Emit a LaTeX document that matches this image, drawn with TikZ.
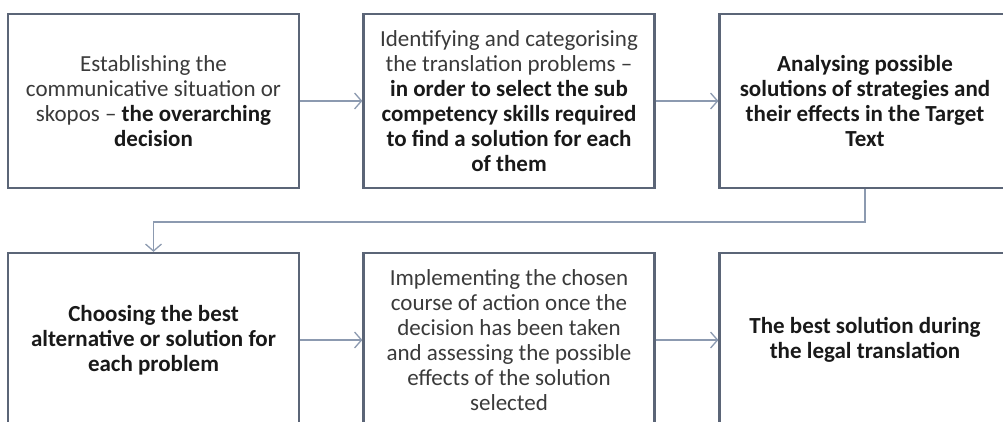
\documentclass[tikz,border=0pt]{standalone}
\usepackage{fontspec}
\setmainfont{Carlito}
\usepackage{tikz}
\usetikzlibrary{arrows.meta}

\definecolor{boxline}{HTML}{5B6577}
\definecolor{linkline}{HTML}{8C9AB0}
\definecolor{plaintext}{HTML}{3A3A3A}
\newcommand{\keypart}[1]{{\bfseries\color{black!90}#1}}

\begin{document}
\begin{tikzpicture}[x=1pt, y=1pt,
    stage/.style={draw=boxline, line width=2.2pt, minimum width=291pt,
      minimum height=174pt, inner sep=0pt, align=center,
      font=\fontsize{23}{25}\selectfont, text=plaintext},
    link/.style={draw=linkline, line width=1.3pt,
      -{Straight Barb[length=7pt, width=16pt, line width=1.3pt]}}]
    \useasboundingbox (0,0) rectangle (1003,421);

    % top row
    \node[stage] (situation) at (153.5,320)
      {Establishing the\\ communicative situation or\\
       skopos -- \keypart{the overarching}\\ \keypart{decision}};
    \node[stage] (problems) at (509,320)
      {Identifying and categorising\\ the translation problems --\\
       \keypart{in order to select the sub}\\ \keypart{competency skills required}\\
       \keypart{to find a solution for each}\\ \keypart{of them}};
    \node[stage] (analysing) at (865,320)
      {\keypart{Analysing possible}\\ \keypart{solutions of strategies and}\\
       \keypart{their effects in the Target}\\ \keypart{Text}};

    % bottom row
    \node[stage] (choosing) at (153.5,81)
      {\keypart{Choosing the best}\\ \keypart{alternative or solution for}\\
       \keypart{each problem}};
    \node[stage] (implementing) at (509,81)
      {Implementing the chosen\\ course of action once the\\
       decision has been taken\\ and assessing the possible\\
       effects of the solution\\ selected};
    \node[stage] (best) at (865,81)
      {\keypart{The best solution during}\\ \keypart{the legal translation}};

    \draw[link] (situation) -- (problems);
    \draw[link] (problems) -- (analysing);
    \coordinate (turn) at ([yshift=-33pt]analysing.south);
    \draw[link] (analysing.south) -- (turn) -| (choosing.north);
    \draw[link] (choosing) -- (implementing);
    \draw[link] (implementing) -- (best);
  \end{tikzpicture}
\end{document}
